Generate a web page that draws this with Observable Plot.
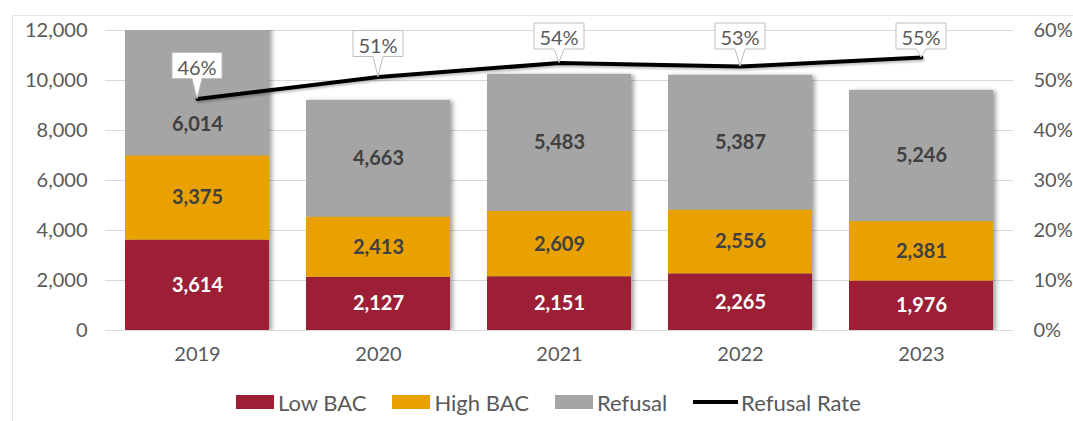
<!DOCTYPE html>
<html>
<head>
<meta charset="utf-8">
<script src="https://cdn.jsdelivr.net/npm/d3@7"></script>
<script src="https://cdn.jsdelivr.net/npm/@observablehq/plot@0.6"></script>
<style>
  body { margin: 0; background: #fff; font-family: "Century Gothic", Lato, "Open Sans", sans-serif; }
  #wrap { position: relative; width: 1073px; height: 421px; overflow: hidden; background: #fff; }
  #frame { position: absolute; left: 12px; top: 15px; width: 1100px; height: 500px;
           border-left: 1px solid #e4e4e4; border-top: 1px solid #e4e4e4; }
  #chart { position: absolute; left: 0; top: 0; }
  #legend { position: absolute; top: 380px; left: 236px; height: 44px; display: flex; align-items: center;
            font-size: 22px; color: #595959; white-space: nowrap; }
  .item { display: flex; align-items: center; margin-right: 26px; }
  .sw { width: 38px; height: 14px; margin-right: 4px; }
  .ln { width: 45px; height: 4px; background: #000; margin-right: 3px; }
</style>
</head>
<body>
<div id="wrap">
  <div id="frame"></div>
  <div id="chart"></div>
  <div id="legend"></div>
</div>
<script>
const years = ["2019", "2020", "2021", "2022", "2023"];
const lowBAC = [3614, 2127, 2151, 2265, 1976];
const highBAC = [3375, 2413, 2609, 2556, 2381];
const refusal = [6014, 4663, 5483, 5387, 5246];
const refusalRate = [46.3, 50.7, 53.5, 52.8, 54.6];
const rateLabels = ["46%", "51%", "54%", "53%", "55%"];
const seriesNames = ["Low BAC", "High BAC", "Refusal"];
const seriesColors = ["#9c1f35", "#e9a100", "#a5a5a5"];
const lineName = "Refusal Rate";
const countTicks = [0, 2000, 4000, 6000, 8000, 10000, 12000];
const rateTicks = [0, 10, 20, 30, 40, 50, 60];

const yMax = countTicks[countTicks.length - 1];
const rateToCount = yMax / rateTicks[rateTicks.length - 1];
const series = [lowBAC, highBAC, refusal];

const rows = [];
years.forEach((yr, i) => {
  let base = 0;
  series.forEach((arr, s) => {
    const v = arr[i];
    const top = base + v;
    const visTop = Math.min(top, yMax);
    const labelY = top > yMax ? base + (visTop - base) / 4 : (base + top) / 2;
    rows.push({year: yr, type: seriesNames[s], s, value: v, y1: base, y2: top, labelY, label: d3.format(",")(v)});
    base = top;
  });
});
const rateRows = years.map((yr, i) => ({year: yr, y: refusalRate[i] * rateToCount, label: rateLabels[i]}));

const FONT = '"Century Gothic", Lato, "Open Sans", sans-serif';

const cv = document.createElement("canvas").getContext("2d");
cv.font = "20px Lato";

function callouts(index, scales, values, dimensions) {
  const sx = scales.x, sy = scales.y;
  const bw = typeof sx.bandwidth === "function" ? sx.bandwidth() : 0;
  const g = d3.create("svg:g").attr("aria-label", "callouts");
  const h = 26;
  const topLimit = dimensions.marginTop - 7;
  rateRows.forEach(d => {
    const px = sx(d.year) + bw / 2;
    const py = sy(d.y);
    const w = Math.ceil(cv.measureText(d.label).width) + 10;
    const boxTop = Math.max(py - 20 - h, topLimit);
    const boxBottom = boxTop + h;
    const x0 = px - w / 2, x1 = px + w / 2;
    g.append("path")
      .attr("d", `M${x0},${boxTop}H${x1}V${boxBottom}H${px + 5}L${px},${py}L${px - 5},${boxBottom}H${x0}Z`)
      .attr("fill", "#fff").attr("stroke", "#bfbfbf").attr("stroke-width", 1);
    g.append("text")
      .attr("x", px).attr("y", boxTop + h / 2 + 1)
      .attr("text-anchor", "middle").attr("dominant-baseline", "central")
      .attr("font-size", 20).attr("fill", "#595959").attr("font-family", FONT)
      .text(d.label);
  });
  return g.node();
}

const chart = Plot.plot({
  width: 1073,
  height: 375,
  marginLeft: 105,
  marginRight: 60,
  marginTop: 30,
  marginBottom: 45,
  style: {fontFamily: FONT, fontSize: "20px", color: "#595959", background: "transparent", overflow: "visible"},
  x: {domain: years, paddingInner: 0.205, paddingOuter: 0.1025, label: null},
  y: {domain: [0, yMax], label: null},
  color: {domain: seriesNames, range: seriesColors},
  marks: [
    Plot.gridY(countTicks, {stroke: "#d9d9d9", strokeOpacity: 1, strokeWidth: 1}),
    Plot.axisY(countTicks, {anchor: "left", tickSize: 0, tickPadding: 18, tickFormat: d3.format(","), label: null}),
    Plot.axisY(countTicks, {anchor: "right", tickSize: 0, tickPadding: 20, tickFormat: d => `${d / rateToCount}%`, label: null}),
    Plot.axisX({tickSize: 0, tickPadding: 16, label: null}),
    Plot.barY(rows, {x: "year", y1: "y1", y2: "y2", fill: "type", clip: true}),
    Plot.text(rows.filter(r => r.s === 0), {x: "year", y: "labelY", text: "label", fill: "#ffffff", fontWeight: "bold", fontSize: 20}),
    Plot.text(rows.filter(r => r.s !== 0), {x: "year", y: "labelY", text: "label", fill: "#404040", fontWeight: "bold", fontSize: 20}),
    Plot.line(rateRows, {x: "year", y: "y", stroke: "#000", strokeWidth: 4}),
    callouts
  ]
});

d3.select(chart).selectAll('g[aria-label="bar"]').style("filter", "drop-shadow(3px 1px 2px rgba(0,0,0,0.35))");
d3.select(chart).selectAll('g[aria-label="line"]').style("filter", "drop-shadow(1px 2px 1px rgba(0,0,0,0.25))");
document.getElementById("chart").append(chart);

const legend = d3.select("#legend");
seriesNames.forEach((name, i) => {
  const it = legend.append("div").attr("class", "item");
  it.append("div").attr("class", "sw").style("background", seriesColors[i]);
  it.append("span").text(name);
});
const li = legend.append("div").attr("class", "item");
li.append("div").attr("class", "ln");
li.append("span").text(lineName);
</script>
</body>
</html>
